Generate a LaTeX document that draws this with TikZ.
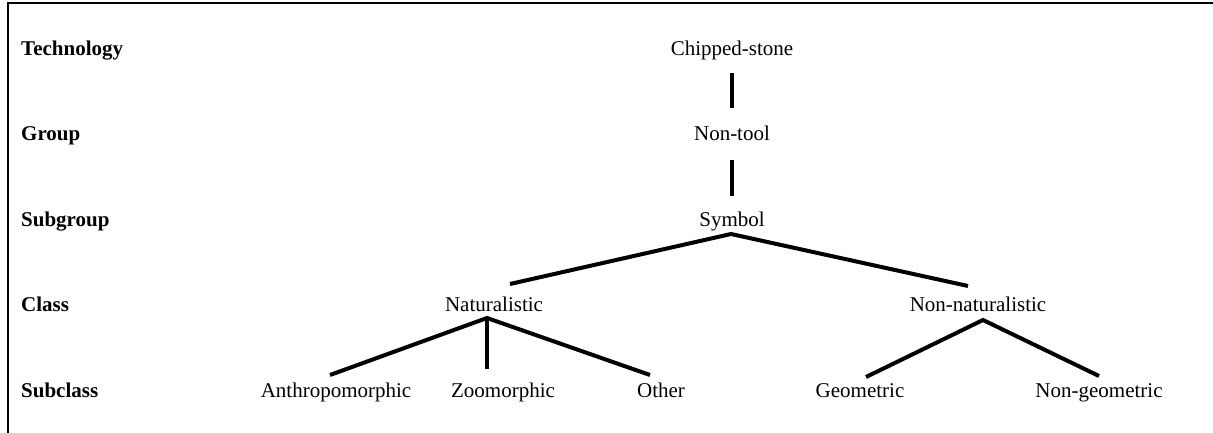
\documentclass[tikz,border=0pt]{standalone}
\usepackage{fontspec}
\setmainfont{Liberation Serif}
\begin{document}
\begin{tikzpicture}[x=1pt,y=-1pt,
  lbl/.style={anchor=base west,inner sep=0pt,font=\fontsize{21}{24}\selectfont\bfseries},
  item/.style={anchor=base,inner sep=0pt,font=\fontsize{21}{24}\selectfont},
  link/.style={line width=4pt,black},
  frame/.style={line width=2.5pt,black}]
\useasboundingbox (0,0) rectangle (1213,433);
% frame (top and left only)
\coordinate (fbl) at (8,433);
\coordinate (ftl) at (8,2.8);
\coordinate (ftr) at (1213,2.8);
\draw[frame] (fbl) -- (ftl) -- (ftr);
% level labels
\node[lbl] (lTech) at (21,56) {Technology};
\node[lbl] (lGroup) at (21,141) {Group};
\node[lbl] (lSubgroup) at (21,226) {Subgroup};
\node[lbl] (lClass) at (21,311) {Class};
\node[lbl] (lSubclass) at (21,397) {Subclass};
% tree nodes
\node[item] (chip) at (732,56) {Chipped-stone};
\node[item] (nontool) at (732,141) {Non-tool};
\node[item] (symbol) at (732,226) {Symbol};
\node[item] (nat) at (494,311) {Naturalistic};
\node[item] (nonnat) at (978,311) {Non-naturalistic};
\node[item] (anthro) at (336,397) {Anthropomorphic};
\node[item] (zoo) at (503,397) {Zoomorphic};
\node[item] (other) at (661,397) {Other};
\node[item] (geo) at (860,397) {Geometric};
\node[item] (nongeo) at (1099,397) {Non-geometric};
% connector end points
\coordinate (chipB) at (732,73);
\coordinate (ntT) at (732,108);
\coordinate (ntB) at (732,160);
\coordinate (symT) at (732,196);
\coordinate (symA) at (731,234);
\coordinate (natT) at (510,284);
\coordinate (nonnatT) at (968,286);
\coordinate (natA) at (487,318);
\coordinate (anthroT) at (330,375);
\coordinate (zooT) at (487,369);
\coordinate (otherT) at (650,375);
\coordinate (nonnatA) at (983,320);
\coordinate (geoT) at (866,377);
\coordinate (nongeoT) at (1099,376);
% connectors
\draw[link] (chipB) -- (ntT);
\draw[link] (ntB) -- (symT);
\draw[link] (natT) -- (symA) -- (nonnatT);
\draw[link] (anthroT) -- (natA) -- (otherT);
\draw[link] (natA) -- (zooT);
\draw[link] (geoT) -- (nonnatA) -- (nongeoT);
\end{tikzpicture}
\end{document}
